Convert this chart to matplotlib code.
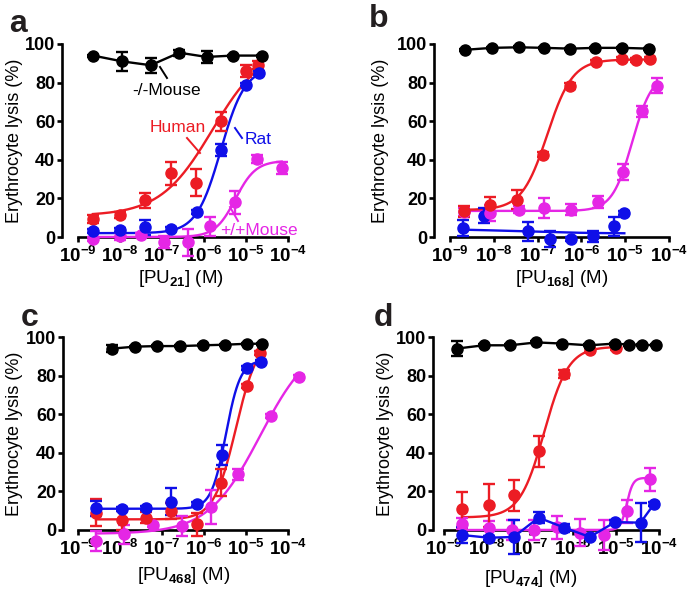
import numpy as np
import matplotlib
matplotlib.use('Agg')
import matplotlib.pyplot as plt

plt.rcParams['font.family'] = ['Liberation Sans', 'DejaVu Sans']
plt.rcParams['mathtext.fontset'] = 'custom'
plt.rcParams['mathtext.rm'] = 'Liberation Sans'
plt.rcParams['mathtext.bf'] = 'Liberation Sans:bold'
plt.rcParams['mathtext.it'] = 'Liberation Sans:italic'

W, H = 695, 596
RED = '#ec1c24'
BLUE = '#0f0fe8'
MAG = '#e526e5'
BLK = '#000000'

# ---- data: log10 concentration (M), lysis (%), error (%) ----
# panel a, PU21
a_blk_x = [-8.64, -7.95, -7.27, -6.59, -5.94, -5.31, -4.61]
a_blk_y = [94, 91, 89, 95.5, 93.3, 94, 94]
a_blk_e = [0.5, 5, 4, 1.5, 3, 0.5, 0.5]
a_red_x = [-8.64, -7.99, -7.41, -6.79, -6.18, -5.60, -4.99, -4.71]
a_red_y = [9.5, 11.5, 19, 33, 28, 60, 86, 89]
a_red_e = [2, 1.5, 4, 6, 7, 5, 3, 2]
a_blu_x = [-8.64, -7.99, -7.41, -6.79, -6.17, -5.60, -4.99, -4.69]
a_blu_y = [2.9, 3.5, 5, 4, 12.8, 45, 79, 85]
a_blu_e = [1, 1, 4, 1, 1, 3, 1, 1]
a_mag_x = [-8.65, -7.99, -7.51, -6.95, -6.37, -5.85, -5.26, -4.73, -4.15]
a_mag_y = [-1, 0.7, 1.2, -2.6, -2.6, 5.5, 18, 40.4, 35.8]
a_mag_e = [1, 2, 1, 3, 7, 5, 6, 2, 3]
# fit parameters: bottom, top, logEC50, hill
a_red_fit = [11, 100, -5.8, 0.7]
a_blu_fit = [2, 88, -5.6, 1.5]
a_mag_fit = [0, 39.5, -5.25, 1.8]

# panel b, PU168
b_blk_x = [-8.65, -8.04, -7.43, -6.85, -6.25, -5.68, -5.07, -4.46]
b_blk_y = [97, 98, 98.3, 98, 97.6, 98, 98, 97.6]
b_blk_e = [0.5] * 8
b_red_x = [-8.69, -8.08, -7.47, -6.88, -6.27, -5.66, -5.07, -4.75, -4.43]
b_red_y = [13.3, 16.8, 19.3, 42.7, 78.4, 90.5, 92.2, 91.9, 92.2]
b_red_e = [3, 4, 5, 1.5, 1.5, 1, 1, 1, 1]
b_mag_x = [-8.69, -8.08, -7.43, -6.85, -6.24, -5.63, -5.05, -4.62, -4.27]
b_mag_y = [13, 12.4, 14.2, 15, 14.2, 18.1, 33.7, 65.1, 78.4]
b_mag_e = [2, 4, 2, 5, 3, 3, 4, 3, 4]
b_blu_x = [-8.70, -8.22, -7.22, -6.72, -6.24, -5.74, -5.26, -5.02]
b_blu_y = [4.7, 11, 2.9, -1, -1, 0.3, 5.5, 12.4]
b_blu_e = [4, 4, 5, 4, 1, 3, 5, 1]
b_red_fit = [14, 92, -6.78, 1.5]
b_mag_fit = [13.5, 85, -4.84, 1.9]
b_blu_fit = [4.3, 1.8, -7.5, 0.5]

# panel c, PU468
c_blk_x = [-8.19, -7.64, -7.12, -6.57, -6.02, -5.50, -4.98, -4.62]
c_blk_y = [94, 95, 95.3, 95.3, 95.7, 96, 96.5, 96.5]
c_blk_e = [2, 0.5, 0.5, 0.5, 0.5, 0.5, 0.5, 0.5]
c_red_x = [-8.57, -7.96, -7.39, -6.79, -6.17, -5.60, -4.98, -4.67]
c_red_y = [9, 5, 6.4, 9.8, 2.9, 24.5, 74.5, 91.7]
c_red_e = [7, 5, 3, 4, 6, 7, 1, 1]
c_blu_x = [-8.57, -7.96, -7.39, -6.79, -6.16, -5.58, -4.98, -4.65]
c_blu_y = [11.2, 10.7, 11.2, 14.7, 13.3, 38.8, 84, 87]
c_blu_e = [4, 1, 1, 7, 1, 5, 1, 1]
c_mag_x = [-8.57, -7.90, -7.21, -6.53, -5.84, -5.18, -4.41, -3.75]
c_mag_y = [-5.7, -2.2, 2.4, 2, 11.9, 28.8, 59, 79.1]
c_mag_e = [5, 5, 1, 5, 9, 3, 1, 1]
c_red_fit = [5.5, 100, -5.24, 1.66]
c_blu_fit = [11, 88, -5.48, 2.5]
c_mag_fit = [-2, 100, -4.66, 0.7]

# panel d, PU474
d_blk_x = [-8.70, -8.08, -7.47, -6.85, -6.26, -5.63, -5.02, -4.70, -4.40, -4.06]
d_blk_y = [94, 95.7, 95.7, 97.2, 96.6, 95.7, 96.6, 96, 96, 95.7]
d_blk_e = [4, 0.5, 0.5, 0.5, 0.5, 0.5, 0.5, 0.5, 0.5, 0.5]
d_red_x = [-8.58, -7.96, -7.38, -6.80, -6.20, -5.60, -4.99]
d_red_y = [10.7, 12.8, 17.9, 40.9, 80.9, 93.1, 94.3]
d_red_e = [9, 11, 8, 8, 2, 1, 1]
d_mag_x = [-8.58, -7.96, -7.42, -6.91, -6.37, -5.83, -5.29, -4.74, -4.20]
d_mag_y = [3.3, 0.9, 0, 0, 1.5, -1.4, -2.6, 9.8, 26.2]
d_mag_e = [3, 4, 5, 5, 6, 7, 8, 6, 6]
d_blu_x = [-8.58, -7.96, -7.38, -6.80, -6.20, -5.61, -5.02, -4.43, -4.12]
d_blu_y = [-2.6, -4, -3.6, 6.4, 1.2, -3.6, 4.1, 3.8, 13.3]
d_blu_e = [4, 1, 9, 3, 2, 1, 1, 10, 1]
d_red_fit = [6.5, 95, -6.67, 1.53]
d_mag_fit = [0, 27, -4.75, 6]

decade_labels = [r'$\mathbf{10^{-%d}}$' % k for k in range(9, 3, -1)]


def hill(x, p):
    bottom, top, logec, h = p
    return bottom + (top - bottom) / (1 + 10 ** ((logec - x) * h))


def make_axes(fig, left, x9, dec, y100, y0, right, ylo=-12, yhi=102):
    ppu = (y0 - y100) / 100.0
    top_px = y100 - (yhi - 100) * ppu
    bot_px = y0 - ylo * ppu
    ax = fig.add_axes([left / W, 1 - bot_px / H, (right - left) / W, (bot_px - top_px) / H])
    ax.set_xscale('log')
    ax.set_xlim(10 ** (-9 - (x9 - left) / dec), 10 ** (-9 + (right - x9) / dec))
    ax.set_ylim(ylo, yhi)
    ax.patch.set_alpha(0)
    for s in ['top', 'right']:
        ax.spines[s].set_visible(False)
    ax.spines['left'].set_bounds(0, 100)
    ax.spines['bottom'].set_position(('data', 0))
    ax.spines['bottom'].set_bounds(1e-9, 1e-4)
    for s in ['left', 'bottom']:
        ax.spines[s].set_linewidth(1.9)
    ax.set_yticks([0, 20, 40, 60, 80, 100])
    ax.set_yticklabels(['0', '20', '40', '60', '80', '100'], fontweight='bold', fontsize=13)
    ax.set_xticks([10.0 ** -k for k in range(9, 3, -1)])
    ax.set_xticklabels(decade_labels, fontsize=13.5)
    ax.xaxis.set_minor_locator(matplotlib.ticker.NullLocator())
    ax.tick_params(axis='both', width=1.9, length=3.5, pad=1.5)
    ax.tick_params(axis='x', pad=3)
    return ax


def series(ax, x, y, e, color, fit=None, connect=False):
    xs = 10 ** np.array(x)
    if fit is not None:
        xx = np.linspace(x[0], x[-1], 300)
        ax.plot(10 ** xx, hill(xx, fit), color=color, lw=1.7, zorder=3, clip_on=False)
    ax.errorbar(xs, y, yerr=e, fmt='o', color=color, ms=8, elinewidth=1.7,
                capsize=4, capthick=1.7, zorder=4, clip_on=False,
                ls='-' if connect else 'none', lw=1.7)


def ftext(px, py, s, **kw):
    fig.text(px / W, 1 - py / H, s, **kw)


def fline(x0, y0, x1, y1, color):
    fig.add_artist(plt.Line2D([x0 / W, x1 / W], [1 - y0 / H, 1 - y1 / H], color=color, lw=1.4))


fig = plt.figure(figsize=(W / 100, H / 100), dpi=100)

# panel a
ax = make_axes(fig, 62, 78, 42, 44, 237, 300)
series(ax, a_mag_x, a_mag_y, a_mag_e, MAG, a_mag_fit)
series(ax, a_red_x, a_red_y, a_red_e, RED, a_red_fit)
series(ax, a_blu_x, a_blu_y, a_blu_e, BLUE, a_blu_fit)
series(ax, a_blk_x, a_blk_y, a_blk_e, BLK, connect=True)

# panel b
ax = make_axes(fig, 434, 450, 43.8, 44, 237, 680)
series(ax, b_blu_x, b_blu_y, b_blu_e, BLUE, b_blu_fit)
series(ax, b_mag_x, b_mag_y, b_mag_e, MAG, b_mag_fit)
series(ax, b_red_x, b_red_y, b_red_e, RED, b_red_fit)
series(ax, b_blk_x, b_blk_y, b_blk_e, BLK, connect=True)

# panel c
ax = make_axes(fig, 63, 78, 42, 337, 530, 305)
series(ax, c_mag_x, c_mag_y, c_mag_e, MAG, c_mag_fit)
series(ax, c_red_x, c_red_y, c_red_e, RED, c_red_fit)
series(ax, c_blu_x, c_blu_y, c_blu_e, BLUE, c_blu_fit)
series(ax, c_blk_x, c_blk_y, c_blk_e, BLK, connect=True)

# panel d
ax = make_axes(fig, 433, 444, 43, 337, 530, 672)
series(ax, d_mag_x, d_mag_y, d_mag_e, MAG, d_mag_fit)
series(ax, d_red_x, d_red_y, d_red_e, RED, d_red_fit)
series(ax, d_blu_x, d_blu_y, d_blu_e, BLUE, connect=True)
series(ax, d_blk_x, d_blk_y, d_blk_e, BLK, connect=True)

# axis titles
ylab = 'Erythrocyte lysis (%)'
for px, py in [(15, 141), (380, 141), (15, 434), (385, 434)]:
    ftext(px, py, ylab, rotation=90, ha='center', va='center', fontsize=13)
for px, py, sub in [(181, 283, '21'), (562, 283, '168'), (184, 580, '468'), (531, 583, '474')]:
    ftext(px, py, r'[PU$_{\mathbf{%s}}$] (M)' % sub, ha='center', va='baseline', fontsize=13.5)

# panel letters
for px, py, s in [(9, 32, 'a'), (369, 27, 'b'), (21, 326, 'c'), (374, 326, 'd')]:
    ftext(px, py, s, ha='left', va='baseline', fontsize=23, fontweight='bold', color='#231f20')

# annotations in panel a
ftext(167, 90, '-/-Mouse', ha='center', va='center', fontsize=12.5, color=BLK)
fline(160, 67, 167, 78, BLK)
ftext(178, 127, 'Human', ha='center', va='center', fontsize=12.5, color=RED)
fline(187, 138, 200, 153, RED)
ftext(258, 140, 'Rat', ha='center', va='center', fontsize=12.5, color=BLUE)
fline(235, 128, 242, 138, BLUE)
ftext(259, 230, '+/+Mouse', ha='center', va='center', fontsize=12.5, color=MAG)
fline(230, 207, 238, 221, MAG)

fig.savefig('out.png', dpi=100)
